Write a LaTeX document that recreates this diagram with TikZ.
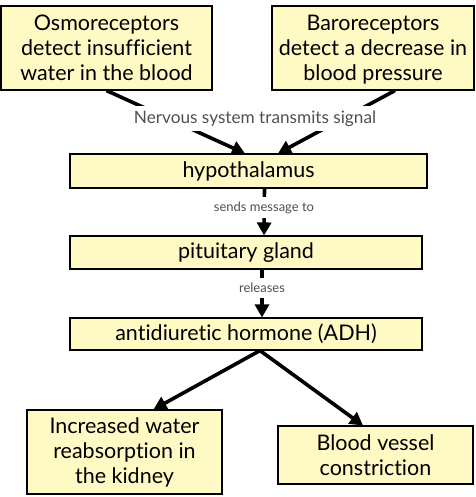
\documentclass[tikz,border=0pt]{standalone}
\usepackage{fontspec}
\setmainfont{Lato}[Ligatures={NoCommon}]
\usetikzlibrary{arrows.meta}
\definecolor{boxfill}{RGB}{255,249,196}
\definecolor{labelgray}{RGB}{80,80,80}
\tikzset{
  ybox/.style={draw=black, line width=1.1pt, fill=boxfill, inner sep=0pt,
    align=center, font=\fontsize{21.5}{25}\selectfont, text=black},
  conn/.style={line width=3.6pt, -{Triangle[length=13pt,width=14pt]}},
  lbl/.style={fill=white, text=labelgray, inner xsep=2pt},
}
\begin{document}
\begin{tikzpicture}[x=1pt,y=-1pt]
\useasboundingbox (0,0) rectangle (475,497);
\node[ybox, minimum width=211pt, minimum height=84pt, text depth=0pt] (osmo) at (106.5,48)
  {Osmoreceptors\\detect insufficient\\water in the blood};
\node[ybox, minimum width=202pt, minimum height=84pt, text depth=0pt] (baro) at (373,48)
  {Baroreceptors\\detect a decrease in\\blood pressure};
\node[ybox, minimum width=357pt, minimum height=34pt] (hypo) at (248.5,171) {hypothalamus};
\node[ybox, minimum width=352pt, minimum height=33pt] (pit) at (246,252.5) {pituitary gland};
\node[ybox, minimum width=352pt, minimum height=32pt] (adh) at (246,334) {antidiuretic hormone (ADH)};
\node[ybox, minimum width=195pt, minimum height=84pt] (incr) at (124.5,452)
  {Increased water\\reabsorption in\\the kidney};
\node[ybox, minimum width=195pt, minimum height=58pt] (vess) at (375.5,455)
  {Blood vessel\\constriction};

\draw[conn] (osmo.south) -- ([xshift=-3.5pt]hypo.north);
\draw[conn] ([xshift=22pt]baro.south) -- ([xshift=29.5pt]hypo.north);
\node[lbl, font=\fontsize{17.2}{19}\selectfont, inner ysep=5pt] (nerv) at (255,118.5) {Nervous system transmits signal};

\draw[conn] ([xshift=16pt]hypo.south) -- ([xshift=18pt]pit.north);
\node[lbl, font=\fontsize{13}{15}\selectfont, inner ysep=5pt] (sends) at (264,207.5) {sends message to};

\draw[conn] ([xshift=16pt]pit.south) -- ([xshift=16pt]adh.north);
\node[lbl, font=\fontsize{13}{15}\selectfont, inner ysep=5pt] (rel) at (262,288) {releases};

\draw[conn] ([xshift=14pt]adh.south) -- ([xshift=29pt]incr.north);
\draw[conn] ([xshift=14pt]adh.south) -- ([xshift=-12.5pt]vess.north);
\end{tikzpicture}
\end{document}
